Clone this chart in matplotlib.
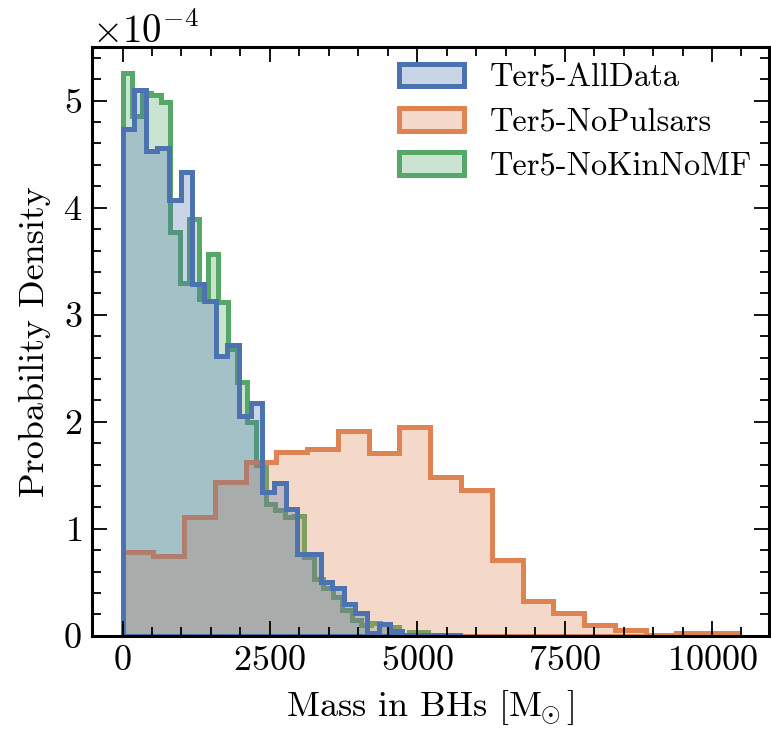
import numpy as np
import matplotlib
matplotlib.use('Agg')
import matplotlib.pyplot as plt
from matplotlib.ticker import MultipleLocator

plt.rcParams.update({
    'font.family': 'serif',
    'font.serif': ['cmr10'],
    'mathtext.fontset': 'cm',
    'axes.formatter.use_mathtext': True,
    'axes.unicode_minus': False,
    'font.size': 26,
})

# histogram data (heights in units of 1e-4)
labels = ['Ter5-AllData', 'Ter5-NoPulsars', 'Ter5-NoKinNoMF']
colors = ['#4C72B0', '#DD8452', '#55A868']

all_width = 197.6
all_vals = [4.735, 5.10, 4.525, 4.556, 4.07, 4.335, 3.29, 3.13, 2.61, 2.715,
            2.05, 2.175, 1.34, 1.43, 1.185, 0.765, 0.765, 0.50, 0.45, 0.30,
            0.21, 0.03, 0.115, 0.045, 0.01, 0.005, 0.005, 0.005, 0.005]

nop_width = 522.0
nop_vals = [0.78, 0.75, 1.11, 1.435, 1.62, 1.72, 1.75, 1.91, 1.71, 1.95,
            1.48, 1.36, 0.71, 0.33, 0.21, 0.10, 0.053, 0.012, 0.025, 0.025]

nokin_width = 162.0
nokin_vals = [5.256, 4.86, 5.07, 5.05, 4.99, 3.77, 3.30, 3.89, 3.15, 3.57,
              3.12, 2.68, 2.37, 2.0, 1.60, 1.23, 1.18, 1.11, 1.12, 0.74,
              0.53, 0.45, 0.36, 0.24, 0.15, 0.10, 0.12, 0.11, 0.08, 0.01,
              0.035, 0.035]

fig = plt.figure(figsize=(7.71, 7.36), dpi=100)
ax = fig.add_axes([0.119, 0.136, 0.878, 0.800])

series = {
    'all': (all_width, all_vals, 0),
    'nop': (nop_width, nop_vals, 1),
    'nokin': (nokin_width, nokin_vals, 2),
}
handles = [None] * 3
# draw order: NoKinNoMF, NoPulsars, AllData
for key in ['nokin', 'nop', 'all']:
    w, vals, i = series[key]
    vals = np.array(vals) * 1e-4
    edges = np.arange(len(vals) + 1) * w
    c = colors[i]
    _, _, patches = ax.hist(edges[:-1], bins=edges, weights=vals, histtype='stepfilled',
                            facecolor=matplotlib.colors.to_rgba(c, 0.3), edgecolor=c,
                            linewidth=3.6, label=labels[i])
    handles[i] = patches[0]

ax.set_ylim(0, 5.5e-4)
ax.ticklabel_format(axis='y', style='sci', scilimits=(0, 0))
ax.xaxis.set_major_locator(MultipleLocator(2500))
ax.xaxis.set_minor_locator(MultipleLocator(500))
ax.yaxis.set_major_locator(MultipleLocator(1e-4))
ax.yaxis.set_minor_locator(MultipleLocator(0.2e-4))
ax.tick_params(which='both', direction='in', top=True, right=True, width=1.3)
ax.tick_params(which='major', length=10.5, pad=7)
ax.tick_params(which='minor', length=6.5)
for s in ax.spines.values():
    s.set_linewidth(2.2)
ax.yaxis.get_offset_text().set_fontsize(28)

ax.set_xlabel(r'Mass in BHs [$\mathrm{M}_{\!\!\odot}$]', labelpad=8)
ax.set_ylabel('Probability Density', labelpad=9)
ax.legend(handles, labels, loc='upper right', frameon=False, fontsize=23.4,
          handlelength=2.0, borderaxespad=0.1, labelspacing=0.47)

fig.savefig('out.png', dpi=100)
